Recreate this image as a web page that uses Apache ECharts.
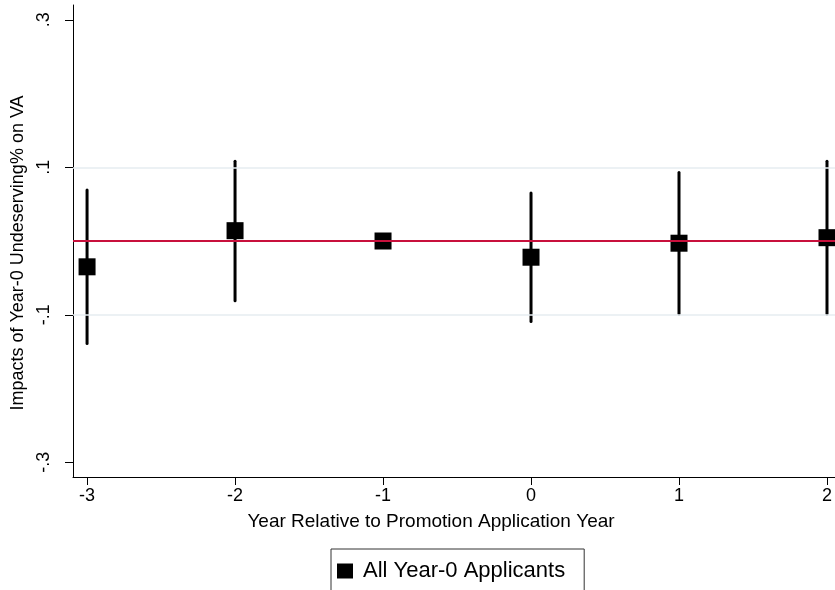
<!DOCTYPE html>
<html>
<head>
<meta charset="utf-8">
<script src="https://cdn.jsdelivr.net/npm/echarts@6/dist/echarts.min.js"></script>
<style>html,body{margin:0;padding:0;background:#fff}#c{width:835px;height:590px}</style>
</head>
<body>
<div id="c"></div>
<script>
var years = [-3, -2, -1, 0, 1, 2];
var estimates = [-0.035, 0.014, 0.000, -0.022, -0.003, 0.0045];
var ciLower = [-0.139, -0.081, null, -0.109, -0.099, -0.099];
var ciUpper = [0.069, 0.108, null, 0.065, 0.093, 0.108];
var yTicks = [-0.3, -0.1, 0.1, 0.3];
var yTickLabels = ['-.3', '-.1', '.1', '.3'];
var xTicks = [-3, -2, -1, 0, 1, 2];
var xTickLabels = ['-3', '-2', '-1', '0', '1', '2'];
var seriesName = 'All Year-0 Applicants';

var FONT = '"Liberation Sans", Arial, Helvetica, sans-serif';
var chart = echarts.init(document.getElementById('c'), null, {renderer: 'canvas'});

var ciData = [];
for (var i = 0; i < years.length; i++) {
  if (ciLower[i] !== null) ciData.push([years[i], ciLower[i], ciUpper[i]]);
}
var pointData = years.map(function (y, i) { return [y, estimates[i]]; });

chart.setOption({
  animation: false,
  backgroundColor: '#fff',
  grid: {left: 73, right: 0, top: 5, bottom: 113, containLabel: false},
  xAxis: {
    type: 'value', min: -3.095, max: 2.054,
    name: 'Year Relative to Promotion Application Year',
    nameLocation: 'middle', nameGap: 35,
    nameTextStyle: {fontFamily: FONT, fontSize: 19, color: '#000', padding: [0, 46, 0, 0]},
    axisLine: {show: true, onZero: false, lineStyle: {color: '#000', width: 1}},
    axisTick: {show: true, length: 8, customValues: xTicks, lineStyle: {color: '#000'}},
    axisLabel: {customValues: xTicks, fontFamily: FONT, fontSize: 18, color: '#000', margin: 10,
      formatter: function (v) { var k = xTicks.indexOf(Math.round(v)); return k >= 0 ? xTickLabels[k] : ''; }},
    splitLine: {show: false}
  },
  yAxis: {
    type: 'value', min: -0.32, max: 0.32,
    name: 'Impacts of Year-0 Undeserving% on VA',
    nameLocation: 'middle', nameGap: 42,
    nameTextStyle: {fontFamily: FONT, fontSize: 18, color: '#000', padding: [0, 24, 0, 0]},
    axisLine: {show: true, onZero: false, lineStyle: {color: '#000', width: 1}},
    axisTick: {show: true, length: 8, customValues: yTicks, lineStyle: {color: '#000'}},
    axisLabel: {customValues: yTicks, rotate: 90, fontFamily: FONT, fontSize: 18, color: '#000', margin: 20,
      formatter: function (v) {
        for (var k = 0; k < yTicks.length; k++) if (Math.abs(yTicks[k] - v) < 1e-6) return yTickLabels[k];
        return '';
      }},
    splitLine: {show: false}
  },
  legend: {
    data: [seriesName], left: 331, top: 549,
    icon: 'rect', itemWidth: 16, itemHeight: 15, itemGap: 6,
    padding: [11, 19, 20, 6],
    borderColor: '#333', borderWidth: 1,
    textStyle: {fontFamily: FONT, fontSize: 22, color: '#000', padding: [0, 0, 0, 5]}
  },
  series: [
    {
      type: 'line', data: [], silent: true,
      markLine: {
        silent: true, symbol: 'none', label: {show: false},
        data: [
          {yAxis: 0.1, lineStyle: {color: '#e6edf1', width: 1.5, type: 'solid'}},
          {yAxis: -0.1, lineStyle: {color: '#e6edf1', width: 1.5, type: 'solid'}},
          {yAxis: 0, lineStyle: {color: '#c8103c', width: 2, type: 'solid'}}
        ]
      }
    },
    {
      type: 'custom', silent: true, z: 3,
      renderItem: function (params, api) {
        var x = api.value(0);
        var p1 = api.coord([x, api.value(1)]);
        var p2 = api.coord([x, api.value(2)]);
        return {type: 'line', shape: {x1: p1[0], y1: p1[1], x2: p2[0], y2: p2[1]},
          style: {stroke: '#000', lineWidth: 3, lineCap: 'round'}};
      },
      encode: {x: 0, y: [1, 2]},
      data: ciData
    },
    {
      name: seriesName, type: 'scatter', symbol: 'rect', symbolSize: 17, z: 4,
      itemStyle: {color: '#000', opacity: 1}, clip: false,
      data: pointData
    }
  ]
});
</script>
</body>
</html>
